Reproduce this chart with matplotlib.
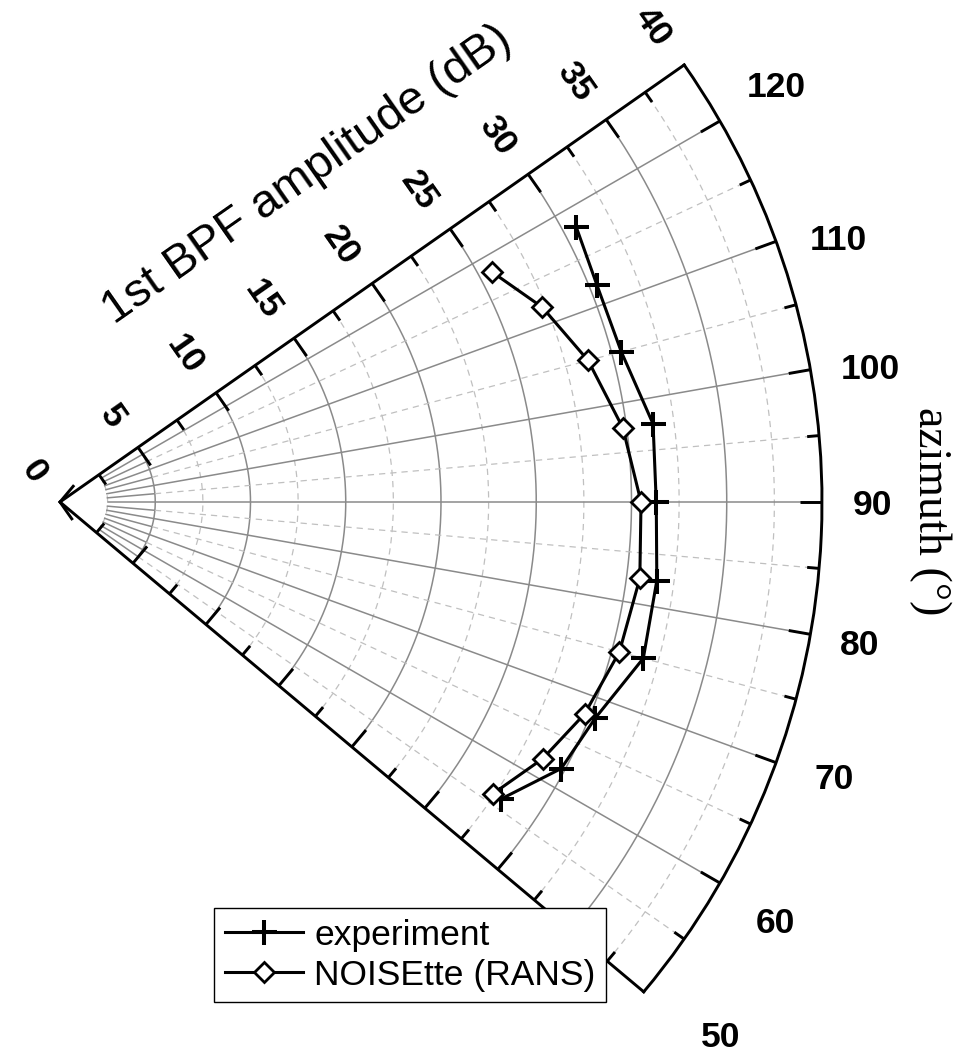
import numpy as np
import matplotlib
matplotlib.use("Agg")
import matplotlib.pyplot as plt

# ---- data -------------------------------------------------------------
azimuth_deg = [118.0, 112.0, 105.0, 97.5, 90.0, 82.5, 75.0, 68.0, 62.0, 56.0]
level_experiment = [30.7, 30.4, 30.5, 31.4, 31.3, 31.6, 31.7, 30.3, 29.8, 27.9]
level_rans = [25.7, 27.3, 28.7, 29.8, 30.5, 30.7, 30.4, 29.7, 28.7, 27.4]

radial_ticks = [0, 5, 10, 15, 20, 25, 30, 35, 40]
azimuth_ticks = [50, 60, 70, 80, 90, 100, 110, 120]

series_names = ["experiment", "NOISEtte (RANS)"]

# ---- layout -----------------------------------------------------------
W_PX, H_PX = 972, 1052
ORIGIN_PX = (60.0, 502.0)          # pole position (pixels from top-left)
R_MAX = 40.0
PX_PER_DB = 762.0 / R_MAX
THETA_MIN, THETA_MAX = 50.0, 125.0

# centre of each azimuth tick label (pixels from top-left)
azimuth_label_px = [(721, 1034), (775, 920), (834, 776), (860, 642),
                    (872, 502), (870, 366), (838, 237), (776, 84)]

MAJOR_GRID = dict(color="#8a8a8a", lw=1.1, ls="-", zorder=1)
MINOR_GRID = dict(color="#c0c0c0", lw=0.9, ls=(0, (5, 4)), zorder=1)
AXIS_LW = 2.1

fig = plt.figure(figsize=(W_PX / 100, H_PX / 100), dpi=100)
ax = fig.add_axes([0.05, 0.05, 0.9, 0.9], projection="polar")
ax.set_theta_offset(-np.pi / 2)
ax.set_thetamin(THETA_MIN)
ax.set_thetamax(THETA_MAX)
ax.set_rlim(0, R_MAX)
ax.grid(False)
ax.set_xticks([])
ax.set_yticks([])
for name, sp in ax.spines.items():
    sp.set_linewidth(AXIS_LW)
    sp.set_color("black")
    sp.set_zorder(4)

# place the pole and radial scale at fixed pixel positions
ax.apply_aspect()
p0 = ax.transData.transform((np.deg2rad(90), 0.0))
p1 = ax.transData.transform((np.deg2rad(90), R_MAX))
cur = (p1[0] - p0[0]) / R_MAX
bb = ax.get_position(original=False)
x0, y0, w, h = bb.x0 * W_PX, bb.y0 * H_PX, bb.width * W_PX, bb.height * H_PX
fx, fy = (p0[0] - x0) / w, (p0[1] - y0) / h
f = PX_PER_DB / cur
nw, nh = w * f, h * f
nx0 = ORIGIN_PX[0] - fx * nw
ny0 = (H_PX - ORIGIN_PX[1]) - fy * nh
ax.set_position([nx0 / W_PX, ny0 / H_PX, nw / W_PX, nh / H_PX])
ax.apply_aspect()


def to_polar(x, y):
    """Cartesian (dB units, x right / y up from the pole) -> (theta, r)."""
    x = np.asarray(x, float)
    y = np.asarray(y, float)
    return np.deg2rad(90.0) + np.arctan2(y, x), np.hypot(x, y)


def px(v):
    return v / PX_PER_DB


def from_pixel(xp, yp):
    return to_polar(px(xp - ORIGIN_PX[0]), px(ORIGIN_PX[1] - yp))


# ---- grid -------------------------------------------------------------
th_arc = np.deg2rad(np.linspace(THETA_MIN, THETA_MAX, 400))
for r in np.arange(2.5, R_MAX, 2.5):
    style = MAJOR_GRID if r % 5 == 0 else MINOR_GRID
    ax.plot(th_arc, np.full_like(th_arc, r), **style)

for az in np.arange(THETA_MIN + 5, THETA_MAX, 5):
    t = np.deg2rad(az)
    if az % 10 == 0:
        ax.plot([t, t], [2.5, R_MAX], **MAJOR_GRID)
    else:
        ax.plot([t, t], [2.5, 5.0], **MAJOR_GRID)
        ax.plot([t, t], [5.0, R_MAX], **MINOR_GRID)

# ---- ticks ------------------------------------------------------------
TICK_MAJOR, TICK_MINOR = px(22), px(12)


def segment(p, q):
    th, r = to_polar([p[0], q[0]], [p[1], q[1]])
    ax.plot(th, r, color="black", lw=AXIS_LW, solid_capstyle="butt",
            clip_on=False, zorder=5)


a_up = np.deg2rad(THETA_MAX - 90)
a_lo = np.deg2rad(THETA_MIN - 90)
u_up = np.array([np.cos(a_up), np.sin(a_up)])
n_up_in = np.array([np.sin(a_up), -np.cos(a_up)])
u_lo = np.array([np.cos(a_lo), np.sin(a_lo)])
n_lo_in = np.array([-np.sin(a_lo), np.cos(a_lo)])

for r in np.arange(0, R_MAX, 2.5):
    L = TICK_MAJOR if r % 5 == 0 else TICK_MINOR
    segment(r * u_up, r * u_up + L * n_up_in)
    segment(r * u_lo, r * u_lo + L * n_lo_in)

for az in np.arange(THETA_MIN + 5, THETA_MAX, 5):
    L = TICK_MAJOR if az % 10 == 0 else TICK_MINOR
    t = np.deg2rad(az)
    ax.plot([t, t], [R_MAX, R_MAX - L], color="black", lw=AXIS_LW,
            solid_capstyle="butt", zorder=5)

# ---- tick labels ------------------------------------------------------
tick_font = dict(family="Liberation Sans", weight="bold", size=25.5)

n_up_out = -n_up_in
for r in radial_ticks:
    p = r * u_up + px(29.5) * n_up_out
    th, rr = to_polar(p[0], p[1])
    ax.text(th, rr, str(r), rotation=np.rad2deg(a_up) - 90,
            rotation_mode="anchor", ha="right", va="center_baseline",
            clip_on=False, **tick_font)

for az, (xp, yp) in zip(azimuth_ticks, azimuth_label_px):
    th, rr = from_pixel(xp, yp)
    ax.text(th, rr, str(az), ha="center", va="center_baseline",
            clip_on=False, **tick_font)

# ---- axis titles ------------------------------------------------------
p = px(390) * u_up + px(126) * n_up_out
th, rr = to_polar(p[0], p[1])
ax.text(th, rr, "1st BPF amplitude (dB)", rotation=np.rad2deg(a_up),
        rotation_mode="anchor", ha="center", va="center",
        family="Liberation Sans", size=34, clip_on=False)

th, rr = from_pixel(930, 511)
ax.text(th, rr, "azimuth (°)", rotation=270, rotation_mode="anchor",
        ha="center", va="center", family="Liberation Serif", size=33,
        clip_on=False)

# ---- data -------------------------------------------------------------
theta = np.deg2rad(azimuth_deg)
ax.plot(theta, level_experiment, color="black", lw=2.2, marker="+",
        ms=18, mew=2.9, label=series_names[0], zorder=6, clip_on=False)
ax.plot(theta, level_rans, color="black", lw=2.2, marker="D", ms=10.5,
        mew=2.0, mfc="white", mec="black", label=series_names[1],
        zorder=6, clip_on=False)

leg = fig.legend(loc="upper left", bbox_to_anchor=(214 / W_PX, 1 - 908 / H_PX),
                 bbox_transform=fig.transFigure, borderaxespad=0,
                 prop=dict(family="Liberation Sans", size=25.5),
                 frameon=True, fancybox=False, edgecolor="black",
                 framealpha=1, handlelength=2.2, handletextpad=0.33,
                 labelspacing=0.2, borderpad=0.3, numpoints=1)
leg.get_frame().set_linewidth(1.0)

fig.savefig("out.png", dpi=100)
